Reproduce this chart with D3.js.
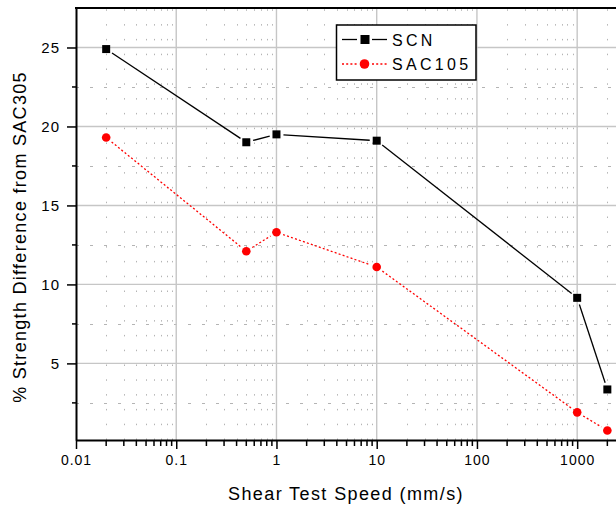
<!DOCTYPE html>
<html>
<head>
<meta charset="utf-8">
<script src="https://cdn.jsdelivr.net/npm/d3@7"></script>
<style>
  html, body { margin: 0; padding: 0; background: #fff; }
  svg { display: block; font-family: "Liberation Sans", Arial, sans-serif; }
</style>
</head>
<body>
<svg id="chart" width="616" height="508"></svg>
<script>
// ---- data ----
const speeds = [0.02, 0.5, 1, 10, 1000, 2000];
const scn = [24.9, 19.0, 19.5, 19.1, 9.15, 3.35];
const sac105 = [19.3, 12.1, 13.3, 11.1, 1.9, 0.75];
const seriesNames = ["SCN", "SAC105"];
const xTickValues = [0.01, 0.1, 1, 10, 100, 1000];
const xTickLabels = ["0.01", "0.1", "1", "10", "100", "1000"];
const yTickValues = [5, 10, 15, 20, 25];
const yMinorValues = [2.5, 7.5, 12.5, 17.5, 22.5];
const xTitle = "Shear Test Speed (mm/s)";
const yTitle = "% Strength Difference from SAC305";

// ---- layout ----
const pLeft = 76, pTop = 8, pBottom = 440, pRight = 625;
const svg = d3.select("#chart");

const x = d3.scaleLog().domain([0.01, 3000]).range([pLeft, pRight]);
const y = d3.scaleLinear().domain([0.15, 27.5]).range([pBottom, pTop]);

// minor x values
const xMinor = [];
for (let e = -2; e <= 3; e++) {
  for (let k = 2; k <= 9; k++) {
    const v = k * Math.pow(10, e);
    if (v <= 3000) xMinor.push(v);
  }
}

const grid = svg.append("g");
grid.selectAll(".vminor").data(xMinor).enter().append("line")
  .attr("x1", d => Math.round(x(d)) + 0.5).attr("x2", d => Math.round(x(d)) + 0.5)
  .attr("y1", pBottom).attr("y2", pTop)
  .attr("stroke", "#b4b4b4").attr("stroke-width", 1)
  .attr("stroke-dasharray", "1.5,13.3");
grid.selectAll(".hminor").data(yMinorValues).enter().append("line")
  .attr("x1", pLeft).attr("x2", pRight)
  .attr("y1", d => Math.round(y(d)) + 0.5).attr("y2", d => Math.round(y(d)) + 0.5)
  .attr("stroke", "#b4b4b4").attr("stroke-width", 1)
  .attr("stroke-dasharray", "3,11");
grid.selectAll(".vmajor").data(xTickValues.slice(1)).enter().append("line")
  .attr("x1", d => x(d)).attr("x2", d => x(d))
  .attr("y1", pBottom).attr("y2", pTop)
  .attr("stroke", "#c6c6c6").attr("stroke-width", 1.4);
grid.selectAll(".hmajor").data(yTickValues).enter().append("line")
  .attr("x1", pLeft).attr("x2", pRight)
  .attr("y1", d => y(d)).attr("y2", d => y(d))
  .attr("stroke", "#c6c6c6").attr("stroke-width", 1.4);

// ---- axes ----
const xAxis = svg.append("g").attr("transform", `translate(0,${pBottom})`)
  .call(d3.axisBottom(x).tickValues(xTickValues)
    .tickFormat((d, i) => xTickLabels[i]).tickSize(9).tickSizeOuter(0).tickPadding(6));
xAxis.append("g").selectAll("line").data(xMinor).enter().append("line")
  .attr("x1", d => x(d)).attr("x2", d => x(d)).attr("y1", 0).attr("y2", 6)
  .attr("stroke", "#000").attr("stroke-width", 1.5);
xAxis.select(".domain").attr("stroke", "#000").attr("stroke-width", 2);
xAxis.selectAll(".tick line").attr("stroke", "#000").attr("stroke-width", 1.5);
xAxis.selectAll(".tick text").attr("fill", "#000")
  .style("font-size", "14px").style("letter-spacing", "1px")
  .style("font-family", "'Liberation Sans', Arial, sans-serif");

const yAxis = svg.append("g").attr("transform", `translate(${pLeft},0)`)
  .call(d3.axisLeft(y).tickValues(yTickValues).tickFormat(d3.format("d"))
    .tickSize(9).tickSizeOuter(0).tickPadding(7));
yAxis.append("g").selectAll("line").data(yMinorValues).enter().append("line")
  .attr("x1", -4).attr("x2", 1).attr("y1", d => y(d)).attr("y2", d => y(d))
  .attr("stroke", "#000").attr("stroke-width", 1.5);
yAxis.select(".domain").attr("stroke", "#000").attr("stroke-width", 2);
yAxis.selectAll(".tick line").attr("stroke", "#000").attr("stroke-width", 1.5);
yAxis.selectAll(".tick text").attr("fill", "#000")
  .style("font-size", "15px").style("letter-spacing", "1px")
  .style("font-family", "'Liberation Sans', Arial, sans-serif");

// top border
svg.append("line").attr("x1", pLeft - 1).attr("x2", pRight).attr("y1", pTop).attr("y2", pTop)
  .attr("stroke", "#000").attr("stroke-width", 2);

// ---- series ----
function drawSeries(vals, color, dash, gap, markerType) {
  const pts = speeds.map((s, i) => [x(s), y(vals[i])]);
  const g = svg.append("g");
  for (let i = 0; i < pts.length - 1; i++) {
    const [x1, y1] = pts[i], [x2, y2] = pts[i + 1];
    const dx = x2 - x1, dy = y2 - y1, len = Math.hypot(dx, dy);
    const ux = dx / len, uy = dy / len;
    g.append("line")
      .attr("x1", x1 + ux * gap).attr("y1", y1 + uy * gap)
      .attr("x2", x2 - ux * gap).attr("y2", y2 - uy * gap)
      .attr("stroke", color).attr("stroke-width", 1.3)
      .attr("stroke-dasharray", dash);
  }
  if (markerType === "square") {
    g.selectAll("rect").data(pts).enter().append("rect")
      .attr("x", d => d[0] - 4).attr("y", d => d[1] - 4)
      .attr("width", 8).attr("height", 8).attr("fill", color);
  } else {
    g.selectAll("circle").data(pts).enter().append("circle")
      .attr("cx", d => d[0]).attr("cy", d => d[1]).attr("r", 4.3).attr("fill", color);
  }
}
drawSeries(scn, "#000", null, 7, "square");
drawSeries(sac105, "#ff0000", "2,2.2", 7, "circle");

// ---- legend ----
const lg = svg.append("g");
lg.append("rect").attr("x", 336.5).attr("y", 25).attr("width", 139.5).attr("height", 55)
  .attr("fill", "#fff").attr("stroke", "#000").attr("stroke-width", 1.5);
const legendItems = [
  { name: seriesNames[0], color: "#000", dash: null, marker: "square", cy: 39.5 },
  { name: seriesNames[1], color: "#ff0000", dash: "2,2.2", marker: "circle", cy: 64 }
];
legendItems.forEach(it => {
  lg.append("line").attr("x1", 342).attr("x2", 357).attr("y1", it.cy).attr("y2", it.cy)
    .attr("stroke", it.color).attr("stroke-width", 1.3).attr("stroke-dasharray", it.dash);
  lg.append("line").attr("x1", 372).attr("x2", 387).attr("y1", it.cy).attr("y2", it.cy)
    .attr("stroke", it.color).attr("stroke-width", 1.3).attr("stroke-dasharray", it.dash);
  if (it.marker === "square") {
    lg.append("rect").attr("x", 360.5).attr("y", it.cy - 4.5).attr("width", 9).attr("height", 9)
      .attr("fill", it.color);
  } else {
    lg.append("circle").attr("cx", 364.5).attr("cy", it.cy).attr("r", 4.8).attr("fill", it.color);
  }
  lg.append("text").attr("x", 392).attr("y", it.cy + 6)
    .style("font-size", "16px").style("letter-spacing", "3.3px")
    .attr("fill", "#000").text(it.name);
});

// ---- titles ----
svg.append("text").attr("x", 346).attr("y", 500).attr("text-anchor", "middle")
  .style("font-size", "18px").style("letter-spacing", "1.4px").attr("fill", "#000")
  .text(xTitle);
svg.append("text").attr("transform", "translate(26,237) rotate(-90)").attr("text-anchor", "middle")
  .style("font-size", "18px").style("letter-spacing", "1.3px").attr("fill", "#000")
  .text(yTitle);
</script>
</body>
</html>
